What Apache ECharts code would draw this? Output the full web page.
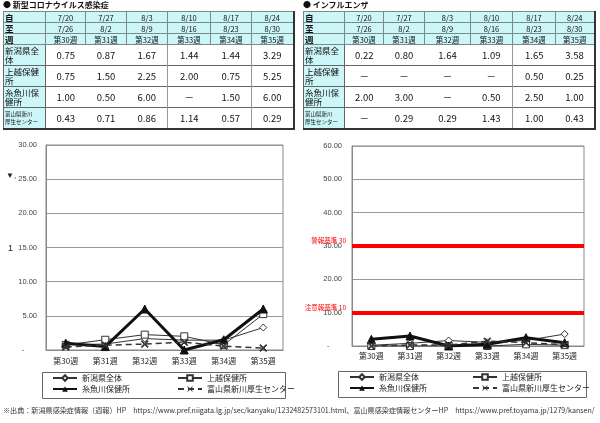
<!DOCTYPE html>
<html><head><meta charset="utf-8">
<script src="https://cdn.jsdelivr.net/npm/echarts@6/dist/echarts.min.js"></script>
<style>
html,body{margin:0;padding:0;background:#fff;}
body{width:600px;height:423px;position:relative;overflow:hidden;font-family:"Noto Sans CJK JP","Noto Sans",sans-serif;color:#111;}
#chart{position:absolute;left:0;top:0;width:600px;height:423px;}
.ttl{position:absolute;top:0px;font-size:8px;font-weight:bold;line-height:10px;white-space:nowrap;}
table.t{position:absolute;top:11px;border-collapse:collapse;table-layout:fixed;border:1px solid #555;border-right:2px solid #333;border-bottom:2px solid #333;}
table.t td{padding:0;overflow:hidden;white-space:nowrap;}
table.t tr.h td{height:10px;line-height:9px;font-size:7.5px;text-align:center;background:#ccf6f8;border:1px solid #7a8a8a;}
table.t tr.h td.lab{text-align:left;font-size:8.5px;font-weight:bold;padding-left:1px;}
table.t tr.d td{height:20px;font-size:9.5px;text-align:center;border-top:1px solid #666;background:#fff;}
table.t tr.d td.lab{background:#ccf6f8;font-size:8.5px;line-height:9.5px;text-align:left;white-space:normal;border:1px solid #666;padding-left:1px;word-break:break-all;}
table.t tr.d td.lab.sm{font-size:5.5px;line-height:8px;}
table.t td.g{border-left:1px solid #999 !important;}
#foot{position:absolute;left:3px;top:405px;font-size:7.1px;white-space:nowrap;color:#333;letter-spacing:0px;}
</style></head>
<body>
<div id="chart"></div>
<div class="ttl" style="left:3px">● 新型コロナウイルス感染症</div>
<div class="ttl" style="left:303px">● インフルエンザ</div>
<table class="t" id="tL" style="left:3px;width:291px"></table>
<table class="t" id="tR" style="left:303px;width:291px"></table>
<div id="foot">※出典：新潟県感染症情報（週報）HP　https://www.pref.niigata.lg.jp/sec/kanyaku/1232482573101.html、富山県感染症情報センターHP　https://www.pref.toyama.jp/1279/kansen/</div>
<script>
// ---- data ----
var fromDates = ['7/20','7/27','8/3','8/10','8/17','8/24'];
var toDates   = ['7/26','8/2','8/9','8/16','8/23','8/30'];
var weeks     = ['第30週','第31週','第32週','第33週','第34週','第35週'];
var seriesNames = ['新潟県全体','上越保健所','糸魚川保健所','富山県新川厚生センター'];
// COVID-19 (null = "－")
var covidNiigata   = [0.75, 0.87, 1.67, 1.44, 1.44, 3.29];
var covidJoetsu    = [0.75, 1.50, 2.25, 2.00, 0.75, 5.25];
var covidItoigawa  = [1.00, 0.50, 6.00, null, 1.50, 6.00];
var covidToyama    = [0.43, 0.71, 0.86, 1.14, 0.57, 0.29];
// Influenza (null = "－")
var fluNiigata   = [0.22, 0.80, 1.64, 1.09, 1.65, 3.58];
var fluJoetsu    = [null, null, null, null, 0.50, 0.25];
var fluItoigawa  = [2.00, 3.00, null, 0.50, 2.50, 1.00];
var fluToyama    = [null, 0.29, 0.29, 1.43, 1.00, 0.43];
var covidYTicks = [0, 5, 10, 15, 20, 25, 30];
var fluYTicks   = [0, 10, 20, 30, 40, 50, 60];
var fluAlarm = 30, fluWarn = 10;
var alarmLabel = '警報基準 30', warnLabel = '注意報基準 10';

// ---- tables ----
function buildTable(id, rows, widths, groups){
  var t = document.getElementById(id);
  var html = '<colgroup><col style="width:'+widths[0]+'px">';
  for (var i=1;i<widths.length;i++) html += '<col style="width:'+widths[i]+'px">';
  html += '</colgroup>';
  var hdr = [['自',fromDates],['至',toDates],['週',weeks]];
  hdr.forEach(function(h){
    html += '<tr class="h"><td class="lab">'+h[0]+'</td>';
    h[1].forEach(function(v){ html += '<td>'+v+'</td>'; });
    html += '</tr>';
  });
  rows.forEach(function(r, k){
    var nm = seriesNames[k];
    var sm = nm.length > 8;
    html += '<tr class="d"><td class="lab'+(sm?' sm':'')+'">'+(sm?nm.replace('新川','新川<br>'):nm)+'</td>';
    r.forEach(function(v, j){
      html += '<td'+(groups.indexOf(j)>=0?' class="g"':'')+'>'+(v===null?'－':v.toFixed(2))+'</td>';
    });
    html += '</tr>';
  });
  t.innerHTML = html;
}
buildTable('tL', [covidNiigata, covidJoetsu, covidItoigawa, covidToyama], [42,40,41,41,43,41,42], [3,5]);
buildTable('tR', [fluNiigata, fluJoetsu, fluItoigawa, fluToyama], [41,39,41,46,42,43,39], [4]);

// ---- charts ----
var z = function(a){ return a.map(function(v){ return v===null?0:v; }); };
var crossPath = 'path://M0,1L1,0L5,4L9,0L10,1L6,5L10,9L9,10L5,6L1,10L0,9L4,5Z';
function mk(idx, data, k, extra){
  var styles = [
    {symbol:'diamond', symbolSize:7, lineStyle:{width:1,color:'#333'}, itemStyle:{color:'#fff',borderColor:'#333',borderWidth:1}},
    {symbol:'rect', symbolSize:7, lineStyle:{width:1,color:'#333'}, itemStyle:{color:'#fff',borderColor:'#333',borderWidth:1}},
    {symbol:'triangle', symbolSize:8, lineStyle:{width:3,color:'#111'}, itemStyle:{color:'#111',borderColor:'#111'}},
    {symbol:crossPath, symbolSize:7, lineStyle:{width:1.5,color:'#333',type:[6,4]}, itemStyle:{color:'#333',borderColor:'#333'}}
  ];
  var s = Object.assign({type:'line', name:seriesNames[k], xAxisIndex:idx, yAxisIndex:idx, data:z(data), showAllSymbol:true, z:3+k, animation:false}, styles[k]);
  if (extra) Object.assign(s, extra);
  return s;
}
function yFmt(v){ return v===0 ? '-      ' : v.toFixed(2); }
var axisText = {fontSize:7.5, color:'#444', fontFamily:'Liberation Sans'};
var xText = {fontSize:8, color:'#222', fontFamily:'Noto Sans CJK JP'};
var legendText = {fontSize:8, color:'#222', fontFamily:'Noto Sans CJK JP'};
function legend(left, top, names){
  return {orient:'vertical', left:left, top:top, itemGap:3, itemWidth:24, itemHeight:7, padding:0,
    data:names, textStyle:legendText, selectedMode:false};
}
function mlLabel(txt){
  return {show:true, position:'start', distance:6, formatter:'{a|'+txt+'}\n{b|}',
    rich:{a:{fontSize:6.5,color:'#ff0000',fontFamily:'Noto Sans CJK JP',lineHeight:9}, b:{height:11,lineHeight:11}}};
}
var chart = echarts.init(document.getElementById('chart'), null, {renderer:'canvas'});
chart.setOption({
  animation:false,
  grid:[
    {left:46, top:145, width:237, height:205, show:true, borderColor:'#888', borderWidth:1, backgroundColor:'#fff'},
    {left:352, top:146, width:232, height:200, show:true, borderColor:'#888', borderWidth:1, backgroundColor:'#fff'}
  ],
  xAxis:[
    {type:'category', gridIndex:0, data:weeks, boundaryGap:true, axisTick:{show:false}, axisLine:{lineStyle:{color:'#888'}}, axisLabel:Object.assign({margin:7, interval:0}, xText)},
    {type:'category', gridIndex:1, data:weeks, boundaryGap:true, axisTick:{show:false}, axisLine:{lineStyle:{color:'#888'}}, axisLabel:Object.assign({margin:6, interval:0}, xText)}
  ],
  yAxis:[
    {type:'value', gridIndex:0, min:covidYTicks[0], max:covidYTicks[covidYTicks.length-1], interval:covidYTicks[1]-covidYTicks[0],
      axisLine:{show:true,lineStyle:{color:'#888'}}, axisTick:{show:false}, splitLine:{lineStyle:{color:'#999',width:1}},
      axisLabel:Object.assign({margin:9, formatter:yFmt}, axisText)},
    {type:'value', gridIndex:1, min:fluYTicks[0], max:fluYTicks[fluYTicks.length-1], interval:fluYTicks[1]-fluYTicks[0],
      axisLine:{show:true,lineStyle:{color:'#888'}}, axisTick:{show:false}, splitLine:{lineStyle:{color:'#999',width:1}},
      axisLabel:Object.assign({margin:10, formatter:yFmt}, axisText)}
  ],
  legend:[
    legend(52, 374, [seriesNames[0], seriesNames[2]]),
    legend(177, 374, [seriesNames[1], seriesNames[3]]),
    legend(349, 373, [seriesNames[0], seriesNames[2]]),
    legend(472, 373, [seriesNames[1], seriesNames[3]])
  ],
  graphic:[
    {type:'rect', shape:{x:42.5, y:372.5, width:243, height:26}, style:{fill:'none', stroke:'#666', lineWidth:1}, silent:true},
    {type:'rect', shape:{x:338.5, y:371.5, width:248, height:26}, style:{fill:'none', stroke:'#666', lineWidth:1}, silent:true},
    {type:'text', x:6, y:172, style:{text:'▼,', fontSize:8, fill:'#222'}, silent:true},
    {type:'text', x:8, y:244, style:{text:'1', fontSize:9, fill:'#222'}, silent:true}
  ],
  series:[
    mk(0, covidNiigata, 0), mk(0, covidJoetsu, 1), mk(0, covidItoigawa, 2), mk(0, covidToyama, 3),
    mk(1, fluNiigata, 0, {markLine:{silent:true, symbol:'none', animation:false,
      lineStyle:{color:'#ff0000', width:4, type:'solid'},
      data:[{yAxis:fluAlarm, label:mlLabel(alarmLabel)}, {yAxis:fluWarn, label:mlLabel(warnLabel)}]}}),
    mk(1, fluJoetsu, 1), mk(1, fluItoigawa, 2), mk(1, fluToyama, 3)
  ]
});
</script>
</body></html>
